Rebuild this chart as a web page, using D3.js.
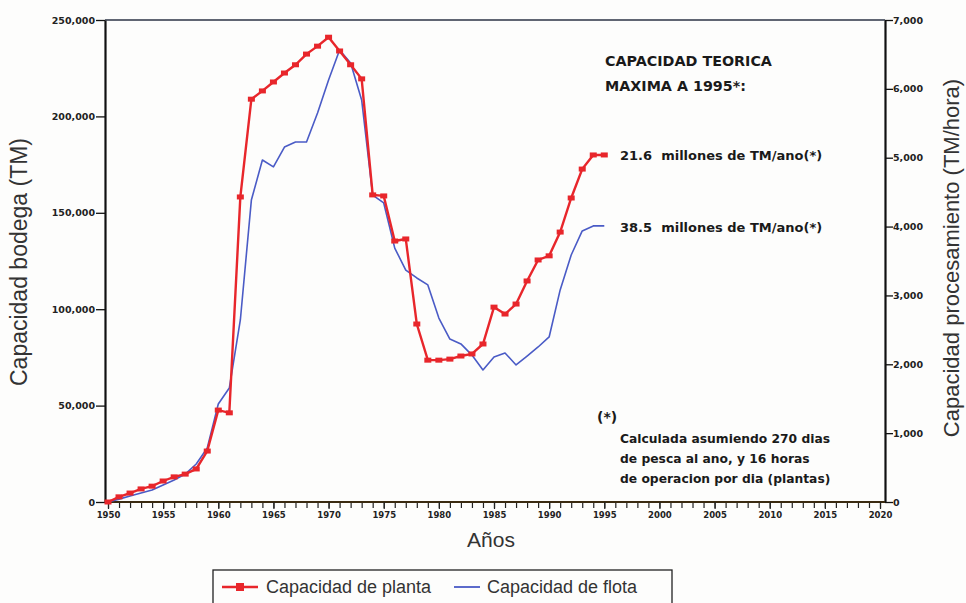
<!DOCTYPE html>
<html>
<head>
<meta charset="utf-8">
<script src="https://cdn.jsdelivr.net/npm/d3@7"></script>
<style>
  body { margin: 0; background: #fdfdfc; }
  svg { display: block; }
  .tick text { font-family: "DejaVu Sans", sans-serif; font-weight: bold; fill: #222; }
  .note { font-family: "DejaVu Sans", sans-serif; font-weight: bold; fill: #1a1a1a; }
  .title { font-family: "Liberation Sans", Arial, sans-serif; fill: #333; }
</style>
</head>
<body>
<svg id="chart" width="966" height="603"></svg>
<script>
// years with data
var years = [1950,1951,1952,1953,1954,1955,1956,1957,1958,1959,
             1960,1961,1962,1963,1964,1965,1966,1967,1968,1969,
             1970,1971,1972,1973,1974,1975,1976,1977,1978,1979,
             1980,1981,1982,1983,1984,1985,1986,1987,1988,1989,
             1990,1991,1992,1993,1994,1995]

// Capacidad de planta (TM/hora), right axis
var planta = [0,75,130,190,230,305,365,405,480,740,
              1335,1295,4430,5850,5970,6100,6230,6350,6505,6620,
              6750,6550,6350,6145,4460,4445,3790,3820,2585,2060,
              2060,2075,2120,2150,2295,2830,2730,2875,3210,3515,
              3575,3920,4415,4835,5040,5040]

// Capacidad de flota (TM bodega), left axis
var flota = [0,1500,3100,4700,6200,8800,11400,14500,19700,28000,
             50800,59100,94400,156600,177400,173800,184100,186700,186700,201800,
             218900,234400,227700,208500,159200,155100,131700,120300,116200,112600,
             95400,84500,82000,76200,68500,75200,77300,71100,75700,80400,
             85600,110000,128100,140600,143200,143200]

var leftTicks = [0,50000,100000,150000,200000,250000]
var rightTicks = [0,1000,2000,3000,4000,5000,6000,7000]
var xMajor = [1950,1955,1960,1965,1970,1975,1980,1985,1990,1995,2000,2005,2010,2015,2020]

var colorPlanta = "#e8262b"
var colorFlota = "#4a5bc6"

var svg = d3.select("#chart")

var x = d3.scaleLinear().domain([1950, 2020]).range([108, 880])
var yL = d3.scaleLinear().domain([0, 250000]).range([502, 20])
var yR = d3.scaleLinear().domain([0, 7000]).range([502, 20])

var left = 105, right = 885

// frame: top line
svg.append("line")
  .attr("x1", left).attr("x2", right).attr("y1", 20).attr("y2", 20)
  .attr("stroke", "#2b3346").attr("stroke-width", 1.5)

// left axis
var gL = svg.append("g").attr("transform", `translate(${left},0)`)
  .call(d3.axisLeft(yL).tickValues(leftTicks).tickSize(9).tickSizeOuter(0)
    .tickFormat(d3.format(",")))
gL.select(".domain").attr("stroke", "#111").attr("stroke-width", 2.2)
gL.selectAll(".tick line").attr("stroke", "#111").attr("stroke-width", 1.3)
gL.selectAll(".tick text").attr("font-size", 9.5).attr("x", -10)

// right axis
var gR = svg.append("g").attr("transform", `translate(${right},0)`)
  .call(d3.axisRight(yR).tickValues(rightTicks).tickSize(8).tickSizeOuter(0)
    .tickFormat(d3.format(",")))
gR.select(".domain").attr("stroke", "#111").attr("stroke-width", 2.2)
gR.selectAll(".tick line").attr("stroke", "#111").attr("stroke-width", 1.3)
gR.selectAll(".tick text").attr("font-size", 9.5).attr("x", 8)

// bottom axis: yearly minor ticks, labelled every 5 years
var allYears = d3.range(1950, 2021)
var gMinor = svg.append("g").attr("transform", "translate(0,502)")
  .call(d3.axisBottom(x).tickValues(allYears).tickSize(6).tickFormat(""))
gMinor.select(".domain").remove()
gMinor.selectAll(".tick line").attr("stroke", "#222").attr("stroke-width", 1.2)

var gX = svg.append("g").attr("transform", "translate(0,502)")
  .call(d3.axisBottom(x).tickValues(xMajor).tickSize(7).tickSizeOuter(0)
    .tickFormat(d3.format("d")))
gX.select(".domain").attr("d", `M${left},0H${right}`)
  .attr("stroke", "#3a2a10").attr("stroke-width", 2)
gX.selectAll(".tick line").attr("stroke", "#222").attr("stroke-width", 1.2)
gX.selectAll(".tick text").attr("font-size", 8.5).attr("y", 10)

// series
var flotaLine = d3.line()
  .x((d, i) => x(years[i]))
  .y(d => yL(d))

var plantaLine = d3.line()
  .x((d, i) => x(years[i]))
  .y(d => yR(d))

svg.append("path")
  .datum(flota)
  .attr("fill", "none")
  .attr("stroke", colorFlota)
  .attr("stroke-width", 1.6)
  .attr("stroke-linejoin", "round")
  .attr("d", flotaLine)

svg.append("path")
  .datum(planta)
  .attr("fill", "none")
  .attr("stroke", colorPlanta)
  .attr("stroke-width", 2.4)
  .attr("d", plantaLine)

svg.append("g").selectAll("rect")
  .data(planta)
  .join("rect")
  .attr("x", (d, i) => x(years[i]) - 3.5)
  .attr("y", d => yR(d) - 2.5)
  .attr("width", 7)
  .attr("height", 5)
  .attr("fill", colorPlanta)

// axis titles
svg.append("text").attr("class", "title")
  .attr("transform", "translate(27,262) rotate(-90)")
  .attr("text-anchor", "middle")
  .attr("font-size", 23)
  .text("Capacidad bodega (TM)")

svg.append("text").attr("class", "title")
  .attr("transform", "translate(959,258) rotate(-90)")
  .attr("text-anchor", "middle")
  .attr("font-size", 22)
  .text("Capacidad procesamiento (TM/hora)")

svg.append("text").attr("class", "title")
  .attr("x", 491).attr("y", 547)
  .attr("text-anchor", "middle")
  .attr("font-size", 21)
  .text("Años")

// annotations
svg.append("text").attr("class", "note")
  .attr("x", 605).attr("y", 66).attr("font-size", 14.3)
  .text("CAPACIDAD TEORICA")
svg.append("text").attr("class", "note")
  .attr("x", 605).attr("y", 91).attr("font-size", 14.3)
  .text("MAXIMA A 1995*:")

svg.append("text").attr("class", "note")
  .attr("x", 620).attr("y", 160).attr("font-size", 13)
  .attr("xml:space", "preserve")
  .text("21.6  millones de TM/ano(*)")
svg.append("text").attr("class", "note")
  .attr("x", 620).attr("y", 232).attr("font-size", 13)
  .attr("xml:space", "preserve")
  .text("38.5  millones de TM/ano(*)")

svg.append("text").attr("class", "note")
  .attr("x", 597).attr("y", 422).attr("font-size", 14)
  .text("(*)")

var foot = ["Calculada asumiendo 270 dias", "de pesca al ano, y 16 horas", "de operacion por dia (plantas)"]
svg.append("g").selectAll("text")
  .data(foot)
  .join("text")
  .attr("class", "note")
  .attr("x", 620)
  .attr("y", (d, i) => 443 + i * 20)
  .attr("font-size", 12.3)
  .text(d => d)

// legend
var lg = svg.append("g")
lg.append("rect")
  .attr("x", 213).attr("y", 570).attr("width", 459).attr("height", 45)
  .attr("fill", "none").attr("stroke", "#222").attr("stroke-width", 1.3)
lg.append("line")
  .attr("x1", 222).attr("x2", 258).attr("y1", 587).attr("y2", 587)
  .attr("stroke", colorPlanta).attr("stroke-width", 2.6)
lg.append("rect")
  .attr("x", 236).attr("y", 583).attr("width", 8).attr("height", 8)
  .attr("fill", colorPlanta)
lg.append("text").attr("class", "title")
  .attr("x", 266).attr("y", 593).attr("font-size", 18)
  .text("Capacidad de planta")
lg.append("line")
  .attr("x1", 454).attr("x2", 480).attr("y1", 587).attr("y2", 587)
  .attr("stroke", colorFlota).attr("stroke-width", 1.8)
lg.append("text").attr("class", "title")
  .attr("x", 487).attr("y", 593).attr("font-size", 18)
  .text("Capacidad de flota")
</script>
</body>
</html>
